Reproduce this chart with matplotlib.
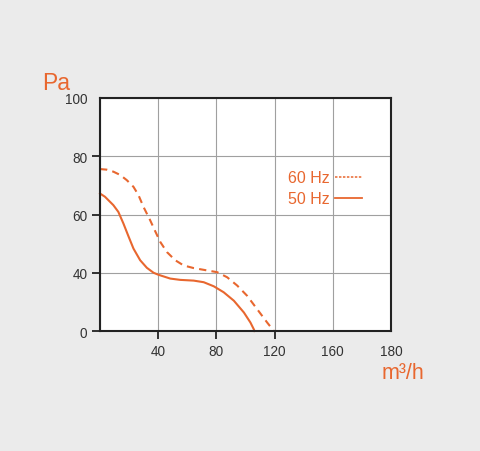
import numpy as np
import matplotlib
matplotlib.use("Agg")
import matplotlib.pyplot as plt
from matplotlib.lines import Line2D

# ---- data ----
flow_50 = [0, 3.4, 9.2, 12.6, 16.1, 19.5, 23.0, 27.6, 32.2, 36.8, 40.2, 48.3, 55.2,
           64.4, 71.3, 78.2, 85.0, 92.0, 98.9, 103.4, 105.7, 106.2]
pa_50 = [67.2, 66.1, 63.2, 60.9, 56.9, 52.6, 48.3, 44.3, 41.7, 40.0, 38.6, 36.0, 35.1,
         34.6, 33.5, 30.7, 26.6, 20.8, 12.7, 5.8, 1.2, 0.0]

flow_60 = [0, 4.6, 9.2, 13.8, 18.4, 23.0, 26.4, 29.9, 34.5, 37.9, 41.4, 46.0, 51.7,
           57.5, 64.4, 71.3, 80.5, 87.4, 94.3, 101.1, 108.0, 114.9, 119.5]
pa_60 = [75.6, 75.4, 74.7, 73.6, 71.8, 69.5, 66.7, 62.6, 58.0, 54.3, 50.6, 47.1, 44.3,
         42.5, 41.6, 41.0, 40.2, 36.9, 31.2, 24.2, 15.0, 5.8, 0.0]

x_ticks = [0, 40, 80, 120, 160, 180]
x_labels = ["", "40", "80", "120", "160", "180"]
y_ticks = [0, 40, 60, 80, 100]
y_labels = ["0", "40", "60", "80", "100"]
series_labels = ["60 Hz", "50 Hz"]

ORANGE = "#e8672f"
TXT = "#333333"

plt.rcParams["font.family"] = ["Liberation Sans", "DejaVu Sans"]


# piecewise-linear scales matching the reference grid
def fx(x):
    x = np.asarray(x, dtype=float)
    return np.where(x <= 160, x / 40.0, 4 + (x - 160) / 20.0)


def ifx(u):
    u = np.asarray(u, dtype=float)
    return np.where(u <= 4, u * 40.0, 160 + (u - 4) * 20.0)


def fy(y):
    y = np.asarray(y, dtype=float)
    return np.where(y <= 40, y / 40.0, 1 + (y - 40) / 20.0)


def ify(u):
    u = np.asarray(u, dtype=float)
    return np.where(u <= 1, u * 40.0, 40 + (u - 1) * 20.0)


fig = plt.figure(figsize=(4.8, 4.52), dpi=100)
fig.patch.set_facecolor("#ebebeb")
ax = fig.add_axes([100 / 480, 1 - 332 / 452, 291 / 480, 233 / 452])
ax.set_facecolor("white")
ax.set_xscale("function", functions=(fx, ifx))
ax.set_yscale("function", functions=(fy, ify))
ax.set_xlim(0, 180)
ax.set_ylim(0, 100)

ax.set_xticks(x_ticks)
ax.set_xticklabels(x_labels)
ax.set_yticks(y_ticks)
ax.set_yticklabels(y_labels)
ax.tick_params(axis="both", direction="out", length=6, width=1.3, color="#222222",
               labelsize=9.8, labelcolor=TXT, pad=3)
ax.minorticks_off()

for t, v in zip(ax.xaxis.get_major_ticks(), x_ticks):
    if v in (0, 160, 180):
        t.tick1line.set_visible(False)
for t, v in zip(ax.yaxis.get_major_ticks(), y_ticks):
    if v == 100:
        t.tick1line.set_visible(False)

ax.grid(True, color="#a0a0a0", linewidth=0.8)
ax.set_axisbelow(True)
for s in ax.spines.values():
    s.set_linewidth(1.5)
    s.set_color("#222222")

ax.plot(flow_60, pa_60, color=ORANGE, lw=1.5, linestyle=(0, (3.5, 2.5)), clip_on=False)
ax.plot(flow_50, pa_50, color=ORANGE, lw=1.5, linestyle="-", clip_on=False)

handles = [Line2D([], [], color=ORANGE, lw=1.1, linestyle=(0, (1.6, 1.0))),
           Line2D([], [], color=ORANGE, lw=1.3, linestyle="-")]
leg = ax.legend(handles, series_labels, loc="upper right", bbox_to_anchor=(0.902, 0.69),
                frameon=False, markerfirst=False, fontsize=11.5, handlelength=1.75,
                handletextpad=0.3, labelspacing=0.38, borderpad=0, borderaxespad=0,
                labelcolor=ORANGE)

fig.text(42 / 480, 1 - 84 / 452, "Pa", color=ORANGE, fontsize=16.5, va="center", ha="left")
fig.text(382 / 480, 1 - 374 / 452, "m³/h", color=ORANGE, fontsize=15.5, va="center", ha="left")

fig.savefig("out.png", dpi=100, facecolor=fig.get_facecolor())
